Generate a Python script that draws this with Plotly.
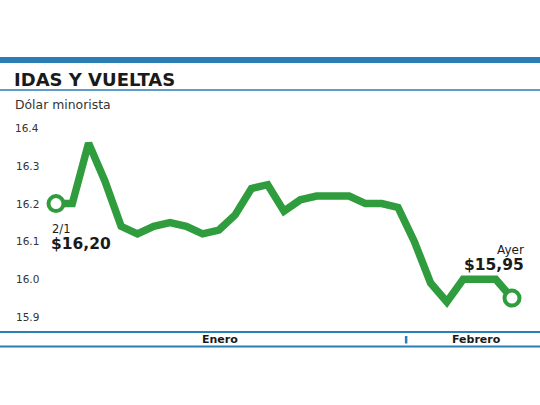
import plotly.graph_objects as go

# ---- data ----
dates = ["2/1", "3/1", "4/1", "5/1", "6/1", "9/1", "10/1", "11/1", "12/1", "13/1",
         "16/1", "17/1", "18/1", "19/1", "20/1", "23/1", "24/1", "25/1", "26/1", "27/1",
         "30/1", "31/1", "1/2", "2/2", "3/2", "6/2", "7/2", "8/2", "9/2"]
values = [16.20, 16.20, 16.36, 16.26, 16.14, 16.12, 16.14, 16.15, 16.14, 16.12,
          16.13, 16.17, 16.24, 16.25, 16.18, 16.21, 16.22, 16.22, 16.22, 16.20,
          16.20, 16.19, 16.10, 15.99, 15.94, 16.00, 16.00, 16.00, 15.95]
y_ticks = [16.4, 16.3, 16.2, 16.1, 16.0, 15.9]
months = ["Enero", "Febrero"]
title = "IDAS Y VUELTAS"
subtitle = "Dólar minorista"
first_label = ("2/1", "$16,20")
last_label = ("Ayer", "$15,95")

GREEN = "#2f9c3e"
BLUE = "#2b7db6"
W, H = 540, 405
FONT = "DejaVu Sans"

def py(px):
    return 1 - px / H

fig = go.Figure()
fig.add_trace(go.Scatter(
    x=list(range(len(dates))), y=values, mode="lines",
    line=dict(color=GREEN, width=7.5, shape="linear"),
    hoverinfo="skip", showlegend=False))
fig.add_trace(go.Scatter(
    x=[0, len(dates) - 1], y=[values[0], values[-1]], mode="markers",
    marker=dict(size=15, color="white", line=dict(color=GREEN, width=4)),
    hoverinfo="skip", showlegend=False))

shapes = [
    dict(type="rect", xref="paper", yref="paper", x0=0, x1=1, y0=py(63), y1=py(57),
         fillcolor=BLUE, line=dict(width=0)),
    dict(type="line", xref="paper", yref="paper", x0=0, x1=1, y0=py(90), y1=py(90),
         line=dict(color=BLUE, width=1.5)),
    dict(type="line", xref="paper", yref="paper", x0=0, x1=1, y0=py(332), y1=py(332),
         line=dict(color=BLUE, width=2)),
    dict(type="line", xref="paper", yref="paper", x0=0, x1=1, y0=py(346.5), y1=py(346.5),
         line=dict(color=BLUE, width=2)),
    dict(type="line", xref="x", yref="paper", x0=21.5, x1=21.5, y0=py(343.5), y1=py(336),
         line=dict(color=BLUE, width=2.5)),
]

ann = [
    dict(text=f"<b>{title}</b>", x=12 / W, y=py(79), xref="paper", yref="paper",
         xanchor="left", yanchor="middle", showarrow=False,
         font=dict(family=FONT, size=18, color="#1a1a1a")),
    dict(text=subtitle, x=13 / W, y=py(104), xref="paper", yref="paper",
         xanchor="left", yanchor="middle", showarrow=False,
         font=dict(family=FONT, size=12.4, color="#333333")),
    dict(text=f"<b>{months[0]}</b>", x=10.07, y=py(339.5), xref="x", yref="paper",
         xanchor="center", yanchor="middle", showarrow=False,
         font=dict(family=FONT, size=11, color="#1a1a1a")),
    dict(text=f"<b>{months[1]}</b>", x=25.85, y=py(339.5), xref="x", yref="paper",
         xanchor="center", yanchor="middle", showarrow=False,
         font=dict(family=FONT, size=11, color="#1a1a1a")),
    dict(text=first_label[0], x=50 / W, y=py(229), xref="paper", yref="paper",
         xanchor="left", yanchor="middle", showarrow=False,
         font=dict(family=FONT, size=11.5, color="#1a1a1a")),
    dict(text=f"<b>{first_label[1]}</b>", x=49 / W, y=py(244), xref="paper", yref="paper",
         xanchor="left", yanchor="middle", showarrow=False,
         font=dict(family=FONT, size=15.5, color="#1a1a1a")),
    dict(text=last_label[0], x=526 / W, y=py(250), xref="paper", yref="paper",
         xanchor="right", yanchor="middle", showarrow=False,
         font=dict(family=FONT, size=12, color="#1a1a1a")),
    dict(text=f"<b>{last_label[1]}</b>", x=526 / W, y=py(265), xref="paper", yref="paper",
         xanchor="right", yanchor="middle", showarrow=False,
         font=dict(family=FONT, size=15.5, color="#1a1a1a")),
]
for t in y_ticks:
    ann.append(dict(text=f"{t:.1f}", x=41 / W, y=t, xref="paper", yref="y",
                    xanchor="right", yanchor="middle", showarrow=False,
                    font=dict(family=FONT, size=10.5, color="#333333")))

# pixel mapping: index 0 -> x=56, index 28 -> x=512 ; 16.4 -> y=128, 15.9 -> y=317
step = (512 - 56) / (len(dates) - 1)
x0 = -56 / step
x1 = x0 + W / step
ppu = (317 - 128) / 0.5
ytop = 16.4 + 128 / ppu
ybot = 16.4 - (H - 128) / ppu

fig.update_layout(
    width=W, height=H, margin=dict(l=0, r=0, t=0, b=0),
    paper_bgcolor="white", plot_bgcolor="white",
    xaxis=dict(range=[x0, x1], visible=False, fixedrange=True),
    yaxis=dict(range=[ybot, ytop], visible=False, fixedrange=True),
    shapes=shapes, annotations=ann, showlegend=False,
)
fig.write_html("out.html", config={"displayModeBar": False},
               post_script="document.body.style.margin='0';document.body.style.overflow='hidden';")
